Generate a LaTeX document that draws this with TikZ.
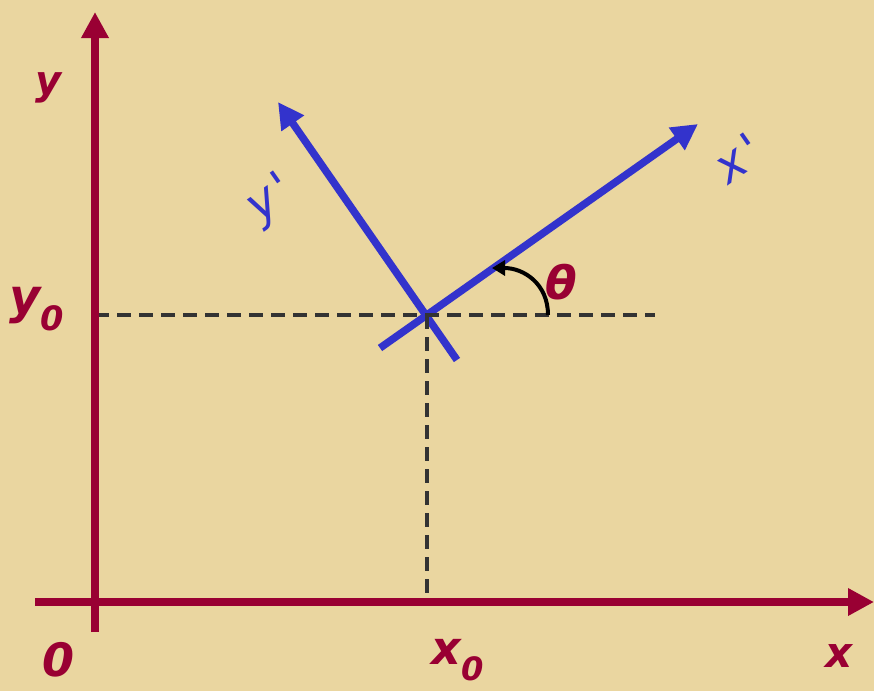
\documentclass[tikz,border=0pt]{standalone}
\usepackage{fontspec}
\setmainfont{DejaVu Sans}
\usetikzlibrary{arrows.meta}
\definecolor{paper}{RGB}{234,214,160}
\definecolor{crim}{RGB}{153,0,51}
\definecolor{blu}{RGB}{51,51,204}
\definecolor{dashgray}{RGB}{51,51,51}
\begin{document}
\begin{tikzpicture}[x=1pt,y=-1pt,
  axisline/.style={draw=crim,line width=8.5pt,-{Triangle[width=26pt,length=26pt]}},
  primeline/.style={draw=blu,line width=7.5pt,-{Triangle[width=26pt,length=26pt]}},
  guide/.style={draw=dashgray,line width=4.5pt,dash pattern=on 14pt off 8pt},
  anglearrow/.style={draw=black,line width=4pt,-{Triangle[width=15pt,length=13pt]}},
  redlab/.style={text=crim,inner sep=0pt},
  bluelab/.style={text=blu,inner sep=0pt,rotate=35}]
\useasboundingbox (0,0) rectangle (874,691);
\fill[paper] (0,0) rectangle (874,691);
% coordinates
\coordinate (O) at (95,602);
\coordinate (ybot) at (95,632);
\coordinate (ytop) at (95,12);
\coordinate (xleft) at (35,602);
\coordinate (xright) at (874,602);
\coordinate (P) at (427,315);
\coordinate (hend) at (655,315);
\coordinate (hstart) at (95,315);
\coordinate (vend) at (427,602);
\coordinate (xpstart) at (380,348);
\coordinate (xptip) at (698,124);
\coordinate (ypstart) at (457,360);
\coordinate (yptip) at (278,102);
\coordinate (astart) at (548,315);
\coordinate (aend) at (492,268);
% rotated axes
\draw[primeline] (xpstart) -- (xptip);
\draw[primeline] (ypstart) -- (yptip);
% guides
\draw[guide] (hstart) -- (hend);
\draw[guide] (P) -- (vend);
% angle
\draw[anglearrow] (astart) .. controls (548,284) and (524,268) .. (aend);
% axes
\draw[axisline] (ybot) -- (ytop);
\draw[axisline] (xleft) -- (xright);
% labels
\node[redlab,font=\bfseries\itshape\fontsize{40}{40}\selectfont] (ylab) at (49,88) {y};
\node[redlab,font=\bfseries\itshape\fontsize{48}{48}\selectfont] (y0lab) at (37,309) {y\textsubscript{0}};
\node[redlab,font=\bfseries\itshape\fontsize{46}{46}\selectfont] (Olab) at (59,660) {0};
\node[redlab,font=\bfseries\itshape\fontsize{46}{46}\selectfont] (x0lab) at (458,660) {x\textsubscript{0}};
\node[redlab,font=\bfseries\itshape\fontsize{42}{42}\selectfont] (xlab) at (839,656) {x};
\node[redlab,font=\bfseries\itshape\fontsize{46}{46}\selectfont] (thlab) at (561,282) {θ};
\node[bluelab,font=\itshape\fontsize{48}{48}\selectfont] (xplab) at (738,158) {x\kern5pt\textquotesingle};
\node[bluelab,font=\itshape\fontsize{48}{48}\selectfont] (yplab) at (271,200) {y\kern5pt\textquotesingle};
\end{tikzpicture}
\end{document}
